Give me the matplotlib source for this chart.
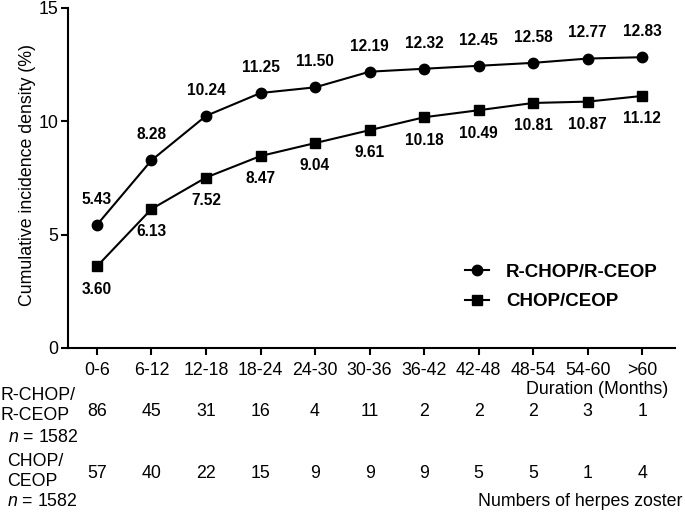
import matplotlib.pyplot as plt
from matplotlib.transforms import blended_transform_factory

plt.rcParams['font.family'] = ['Liberation Sans', 'DejaVu Sans']
plt.rcParams['mathtext.fontset'] = 'custom'
plt.rcParams['mathtext.rm'] = 'Liberation Sans'
plt.rcParams['mathtext.it'] = 'Liberation Sans:italic'

# data
periods = ['0-6', '6-12', '12-18', '18-24', '24-30', '30-36', '36-42', '42-48', '48-54', '54-60', '>60']
rchop = [5.43, 8.28, 10.24, 11.25, 11.50, 12.19, 12.32, 12.45, 12.58, 12.77, 12.83]
chop = [3.60, 6.13, 7.52, 8.47, 9.04, 9.61, 10.18, 10.49, 10.81, 10.87, 11.12]
rchop_counts = [86, 45, 31, 16, 4, 11, 2, 2, 2, 3, 1]
chop_counts = [57, 40, 22, 15, 9, 9, 9, 5, 5, 1, 4]

W, H = 685, 515
FS = 12.8
fig = plt.figure(figsize=(W / 100, H / 100), dpi=100)
ax = fig.add_axes([68 / W, 1 - 348 / H, (675 - 68) / W, 340 / H])

x = list(range(len(periods)))
ax.plot(x, rchop, '-o', color='black', lw=1.5, ms=7.5, label='R-CHOP/R-CEOP', clip_on=False)
ax.plot(x, chop, '-s', color='black', lw=1.5, ms=7, label='CHOP/CEOP', clip_on=False)

for i in x:
    ax.annotate(f'{rchop[i]:.2f}', (i, rchop[i]), xytext=(0, 13), textcoords='offset points',
                ha='center', va='bottom', fontsize=11.2, fontweight='bold')
    ax.annotate(f'{chop[i]:.2f}', (i, chop[i]), xytext=(0, -11), textcoords='offset points',
                ha='center', va='top', fontsize=11.2, fontweight='bold')

ax.set_xlim(-0.53, 10.6)
ax.set_ylim(0, 15)
ax.set_yticks([0, 5, 10, 15])
ax.set_xticks(x)
ax.set_xticklabels(periods)
ax.tick_params(axis='both', width=1.5, length=5, labelsize=FS)
ax.tick_params(axis='x', pad=5)
ax.tick_params(axis='y', pad=2)
for s in ['top', 'right']:
    ax.spines[s].set_visible(False)
for s in ['left', 'bottom']:
    ax.spines[s].set_linewidth(1.5)
ax.set_ylabel('Cumulative incidence density (%)', fontsize=FS)
ax.yaxis.set_label_coords(-0.053, 0.51)

ax.legend(loc='upper left', bbox_to_anchor=(448 / W, 1 - 247 / H), bbox_transform=fig.transFigure,
          frameon=False, handlelength=1.3, handletextpad=0.9, labelspacing=0.65,
          prop={'weight': 'bold', 'size': 13.5})

# table below the axis
tr = blended_transform_factory(ax.transData, fig.transFigure)
fy = lambda p: 1 - p / H
for i in x:
    ax.text(i, fy(412), str(rchop_counts[i]), transform=tr, ha='center', va='center', fontsize=FS)
    ax.text(i, fy(473), str(chop_counts[i]), transform=tr, ha='center', va='center', fontsize=FS)

fig.text(668 / W, fy(390), 'Duration (Months)', ha='right', va='center', fontsize=FS)
fig.text(682 / W, fy(502), 'Numbers of herpes zoster', ha='right', va='center', fontsize=FS)

fig.text(0, fy(396), 'R-CHOP/', ha='left', va='center', fontsize=FS)
fig.text(0, fy(416), 'R-CEOP', ha='left', va='center', fontsize=FS)
fig.text(8 / W, fy(437), r'$\mathit{n}$ = 1582', ha='left', va='center', fontsize=FS)
fig.text(7 / W, fy(461), 'CHOP/', ha='left', va='center', fontsize=FS)
fig.text(7 / W, fy(481), 'CEOP', ha='left', va='center', fontsize=FS)
fig.text(7 / W, fy(502), r'$\mathit{n}$ = 1582', ha='left', va='center', fontsize=FS)

fig.savefig('out.png', dpi=100)
